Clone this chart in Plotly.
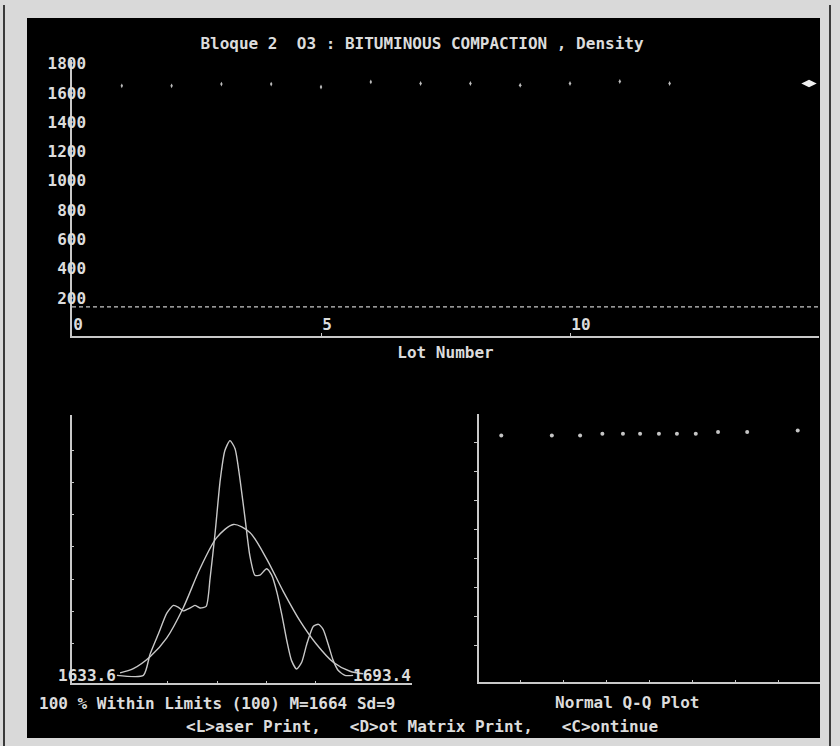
import plotly.graph_objects as go

# ---- data ----
lot = [1, 2, 3, 4, 5, 6, 7, 8, 9, 10, 11, 12]
density = [1648, 1648, 1660, 1660, 1640, 1675, 1664, 1664, 1652, 1664, 1678, 1664]
mean_density = 1664
mean_marker_lot = 14.8
lower_limit = 140

y_ticks_top = [200, 400, 600, 800, 1000, 1200, 1400, 1600, 1800]
x_ticks_top = [0, 5, 10, 15]
x_ticktext_top = ["0", "5", "10", ""]

# density curves (value, height in tick units)
kde_x = [1633.3, 1640.1, 1641.8, 1643.9, 1646.1, 1647.8, 1649.1, 1650.3, 1652.1, 1653.3,
         1654.6, 1656.2, 1657.2, 1658.5, 1659.8, 1661.0, 1662.3, 1663.6, 1664.9, 1666.2,
         1667.4, 1668.7, 1670.0, 1671.7, 1673.0, 1674.3, 1675.6, 1676.9, 1678.1, 1679.4,
         1680.7, 1682.0, 1683.7, 1685.0, 1686.2, 1687.5, 1688.8, 1690.1, 1691.8, 1693.9]
kde_y = [0.0, 0.0, 0.66, 1.28, 1.94, 2.18, 2.12, 2.01, 2.10, 2.18,
         2.10, 2.15, 3.02, 4.45, 6.08, 7.00, 7.31, 7.06, 6.08, 4.86,
         3.73, 3.12, 3.12, 3.32, 3.12, 2.61, 1.89, 1.07, 0.46, 0.20,
         0.41, 0.97, 1.53, 1.59, 1.43, 0.97, 0.46, 0.15, 0.0, 0.0]
norm_x = [1634.1, 1637.5, 1641.8, 1646.1, 1650.3, 1654.6, 1658.9, 1663.2,
          1667.4, 1671.7, 1676.0, 1680.3, 1684.5, 1688.8, 1693.1, 1696.5]
norm_y = [0.08, 0.21, 0.58, 1.17, 2.10, 3.32, 4.29, 4.70,
          4.45, 3.63, 2.61, 1.69, 0.97, 0.41, 0.13, 0.05]
hist_min = 1633.6
hist_max = 1693.4
hist_xticks = [1646.4, 1659.0, 1671.6, 1684.2]
hist_yticks = [1, 2, 3, 4, 5, 6, 7]

# normal Q-Q
qq_theory = [-1.73, -1.14, -0.81, -0.55, -0.31, -0.11, 0.11, 0.32, 0.54, 0.80, 1.14, 1.73]
qq_sample = [1649, 1649, 1649, 1660, 1660, 1660, 1660, 1660, 1660, 1672, 1672, 1683]
qq_xticks = [-1.5, -1.0, -0.5, 0, 0.5, 1.0, 1.5, 2.0]
qq_yticks = [200, 400, 600, 800, 1000, 1200, 1400, 1600]

W, H = 840, 746
FONT = "DejaVu Sans Mono"
FG = "#dcdcdc"
LINE = "#c8c8c8"


def px(x):
    return x / W


def py(y):
    return 1 - y / H


def txt(s):
    # DOS screen text looks heavy
    return "<b>" + s + "</b>"


fig = go.Figure()

# top: density by lot
fig.add_trace(go.Scatter(x=[0, 15], y=[lower_limit, lower_limit], mode="lines",
                         line=dict(color=LINE, width=1.3, dash="4px,3px"),
                         xaxis="x", yaxis="y", hoverinfo="skip"))
fig.add_trace(go.Scatter(x=lot, y=density, mode="markers",
                         marker=dict(color="#bdbdbd", size=3.5, symbol="diamond-tall"),
                         xaxis="x", yaxis="y"))
fig.add_trace(go.Scatter(x=[mean_marker_lot], y=[mean_density], mode="markers",
                         marker=dict(color="#f0f0f0", size=11, symbol="diamond-wide"),
                         xaxis="x", yaxis="y"))

# bottom left: distribution
fig.add_trace(go.Scatter(x=norm_x, y=norm_y, mode="lines",
                         line=dict(color=LINE, width=1.4, shape="spline", smoothing=0.8),
                         xaxis="x2", yaxis="y2"))
fig.add_trace(go.Scatter(x=kde_x, y=kde_y, mode="lines",
                         line=dict(color=LINE, width=1.4, shape="spline", smoothing=0.6),
                         xaxis="x2", yaxis="y2"))

# bottom right: Q-Q
fig.add_trace(go.Scatter(x=qq_theory, y=qq_sample, mode="markers",
                         marker=dict(color="#c4c4c4", size=4, symbol="circle"),
                         xaxis="x3", yaxis="y3"))

axis_common = dict(showgrid=False, zeroline=False, showline=True, linecolor=LINE,
                   linewidth=1.5, tickcolor=LINE, fixedrange=True)
tfont = dict(family=FONT, size=16, color=FG)

fig.update_layout(
    width=W, height=H,
    margin=dict(l=0, r=0, t=0, b=0),
    paper_bgcolor="#d9d9d9",
    plot_bgcolor="rgba(0,0,0,0)",
    showlegend=False,
    font=tfont,
    title=dict(text=txt("Bloque 2  O3 : BITUMINOUS COMPACTION , Density").replace("  ", "\u00a0 "),
               x=px(422), y=py(43), xanchor="center", yanchor="middle", font=tfont),
    xaxis=dict(axis_common, domain=[px(72), px(819)], range=[0, 15],
               tickvals=x_ticks_top, ticktext=[txt(t) if t else "" for t in x_ticktext_top],
               ticks="inside", ticklen=3, ticklabelposition="inside right",
               tickfont=tfont,
               title=dict(text=txt("Lot Number"), standoff=14, font=tfont),
               anchor="y"),
    yaxis=dict(axis_common, domain=[py(333), py(55)], range=[-57.6, 1827],
               tickvals=y_ticks_top, ticktext=[txt(str(v)) for v in y_ticks_top],
               ticks="", ticklabelstandoff=-19, tickfont=tfont, anchor="x"),
    xaxis2=dict(axis_common, domain=[px(71.7), px(412)], range=[1621.7, 1709.0],
                tickvals=hist_xticks, ticks="inside", ticklen=3,
                showticklabels=False, anchor="y2"),
    yaxis2=dict(axis_common, domain=[py(683), py(413)], range=[-0.25, 8.1],
                tickvals=hist_yticks, ticks="inside", ticklen=3,
                showticklabels=False, anchor="x2"),
    xaxis3=dict(axis_common, domain=[px(479), px(820)], range=[-1.99, 1.99],
                tickvals=qq_xticks, ticks="inside", ticklen=3,
                showticklabels=False, anchor="y3"),
    yaxis3=dict(axis_common, domain=[py(682), py(412)], range=[-55, 1795],
                tickvals=qq_yticks, ticks="outside", ticklen=3,
                showticklabels=False, anchor="x3"),
)

# screen frame
fig.add_shape(type="rect", xref="paper", yref="paper", layer="below",
              x0=px(27), x1=px(820), y0=py(738), y1=py(13),
              fillcolor="#000000", line=dict(width=0))
fig.add_shape(type="line", xref="paper", yref="paper",
              x0=px(4), x1=px(4), y0=0, y1=1, line=dict(color="#3a3a3a", width=2))
fig.add_shape(type="line", xref="paper", yref="paper",
              x0=px(830), x1=px(830), y0=0, y1=1, line=dict(color="#3a3a3a", width=2))

# range labels on the distribution plot
fig.add_annotation(x=hist_min, y=0, xref="x2", yref="y2", text=txt(f"{hist_min:.1f}"),
                   showarrow=False, xanchor="right", yanchor="middle", font=tfont)
fig.add_annotation(x=hist_max, y=0, xref="x2", yref="y2", text=txt(f"{hist_max:.1f}"),
                   showarrow=False, xanchor="left", yanchor="middle", font=tfont)

fig.add_annotation(x=px(37), y=py(703), xref="paper", yref="paper",
                   text=txt("100 % Within Limits (100) M=1664 Sd=9"),
                   showarrow=False, xanchor="left", yanchor="middle", font=tfont)
fig.add_annotation(x=px(627), y=py(702), xref="paper", yref="paper",
                   text=txt("Normal Q-Q Plot"),
                   showarrow=False, xanchor="center", yanchor="middle", font=tfont)
fig.add_annotation(x=px(422), y=py(726), xref="paper", yref="paper",
                   text=txt("&lt;L&gt;aser Print,\u00a0\u00a0\u00a0&lt;D&gt;ot Matrix Print,"
                            "\u00a0\u00a0\u00a0&lt;C&gt;ontinue"),
                   showarrow=False, xanchor="center", yanchor="middle", font=tfont)

fig.write_html("out.html", config={"displayModeBar": False},
               post_script="document.body.style.margin='0';")
